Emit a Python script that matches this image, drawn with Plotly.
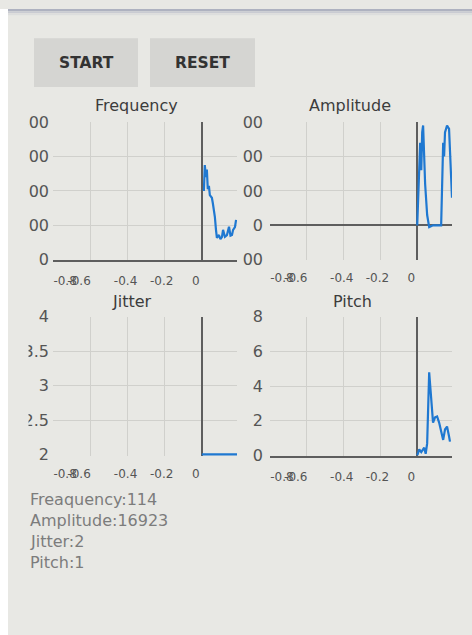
import plotly.graph_objects as go

# ---------------- data ----------------
freq_t = [0.011, 0.016, 0.022, 0.027, 0.032, 0.038, 0.043, 0.054, 0.059, 0.070, 0.076, 0.081,
          0.092, 0.100, 0.108, 0.114, 0.124, 0.135, 0.146, 0.154, 0.162, 0.168, 0.178, 0.184]
freq_v = [200, 275, 240, 262, 205, 215, 188, 180, 165, 125, 87, 64,
          72, 60, 66, 87, 67, 72, 96, 70, 72, 87, 95, 116]

amp_t = [0.0, 0.011, 0.016, 0.022, 0.027, 0.032, 0.043, 0.054, 0.065, 0.086, 0.130,
         0.141, 0.146, 0.151, 0.162, 0.173, 0.184, 0.189]
amp_v = [0, 20000, 24000, 16000, 27000, 29000, 12000, 3000, -500, 0, 0,
         24000, 20000, 27000, 29000, 28000, 12000, 8000]

jit_t = [0.0, 0.05, 0.10, 0.15, 0.189]
jit_v = [2, 2, 2, 2, 2]

pitch_t = [0.0, 0.011, 0.022, 0.038, 0.046, 0.054, 0.065, 0.076, 0.086, 0.097, 0.108,
           0.119, 0.135, 0.141, 0.151, 0.162, 0.173, 0.178]
pitch_v = [0, 0.35, 0.2, 0.45, 0.1, 0.7, 4.8, 3.4, 1.9, 2.2, 2.25,
           1.9, 1.1, 0.9, 1.5, 1.67, 1.1, 0.8]

x_grid = [-0.8, -0.6, -0.4, -0.2, 0.0]
x_label_pos = [-0.735, -0.66, -0.41, -0.216, -0.032]
x_label_text = ["-0.8", "-0.6", "-0.4", "-0.2", "0"]

freq_ticks = [0, 100, 200, 300, 400]
freq_text = ["0", "100", "200", "300", "400"]
amp_ticks = [-10000, 0, 10000, 20000, 30000]
amp_text = ["00", "0", "00", "00", "00"]          # only the visible ends of the clipped labels
jit_ticks = [2, 2.5, 3, 3.5, 4]
jit_text = ["2", "2.5", "3", "3.5", "4"]
pitch_ticks = [0, 2, 4, 6, 8]
pitch_text = ["0", "2", "4", "6", "8"]

titles = ["Frequency", "Amplitude", "Jitter", "Pitch"]
readouts = ["Freaquency:114", "Amplitude:16923", "Jitter:2", "Pitch:1"]
buttons = ["START", "RESET"]

# ---------------- style ----------------
W = 472
HF = 645
SY, OY = 0.972, 8.8     # how the page is mapped onto the photographed picture vertically
BG = "#e8e8e4"
GRID = "#d0d0cc"
AXIS = "#5e5e5e"
LINE = "#1f78d1"
FONT = "DejaVu Sans"


def px(x):
    return x / W


def py(y):
    return 1 - ((y - OY) / SY) / HF


fig = go.Figure()

panels = [
    (freq_t, freq_v, (53, 237), (122, 260), freq_ticks, freq_text, [0, 400], True),
    (amp_t, amp_v, (270, 452), (122, 260), amp_ticks, amp_text, [-10000, 30000], False),
    (jit_t, jit_v, (53, 237), (317, 456), jit_ticks, jit_text, [1.99, 4], False),
    (pitch_t, pitch_v, (270, 452), (317, 456), pitch_ticks, pitch_text, [0, 8], True),
]

layout_axes = {}
for i, (t, v, xr, yr, yt, ytext, yrange, bottom) in enumerate(panels, start=1):
    sx = "" if i == 1 else str(i)
    fig.add_trace(go.Scatter(x=t, y=v, mode="lines", xaxis="x" + sx, yaxis="y" + sx,
                             line=dict(color=LINE, width=2.2 if i != 3 else 3), hoverinfo="skip"))
    layout_axes["xaxis" + sx] = dict(
        domain=[px(xr[0]), px(xr[1])], range=[-0.8, 0.189], anchor="y" + sx,
        tickmode="array", tickvals=x_label_pos, ticktext=x_label_text, tickangle=0,
        showgrid=False, ticks="", ticklabelstandoff=9,
        minor=dict(tickmode="array", tickvals=x_grid, showgrid=True, gridcolor=GRID, gridwidth=1, ticks=""),
        zeroline=True, zerolinecolor=AXIS, zerolinewidth=2,
        showline=bottom, linecolor=AXIS, linewidth=2,
        tickfont=dict(family=FONT, size=12, color="#555555"), fixedrange=True,
    )
    layout_axes["yaxis" + sx] = dict(
        domain=[py(yr[1]), py(yr[0])], range=yrange, anchor="x" + sx,
        tickmode="array", tickvals=yt, ticktext=ytext, tickangle=0,
        showgrid=True, gridcolor=GRID, gridwidth=1, ticks="",
        ticklabelstandoff=(3 if i in (1, 3) else 6),
        zeroline=(i == 2), zerolinecolor=AXIS, zerolinewidth=2, showline=False,
        tickfont=dict(family=FONT, size=16, color="#555555"), fixedrange=True,
    )

shapes = [
    dict(type="rect", xref="paper", yref="paper", x0=0, x1=px(8), y0=0, y1=1,
         fillcolor="white", line_width=0, layer="below"),
    dict(type="rect", xref="paper", yref="paper", x0=px(8), x1=1, y0=py(11), y1=1,
         fillcolor="#aeb2c0", line_width=0, layer="below"),
    dict(type="rect", xref="paper", yref="paper", x0=px(8), x1=1, y0=py(13), y1=py(11),
         fillcolor="#c9cbd2", line_width=0, layer="below"),
    dict(type="rect", xref="paper", yref="paper", x0=px(8), x1=1, y0=py(15), y1=py(13),
         fillcolor="#dcdddd", line_width=0, layer="below"),
    dict(type="rect", xref="paper", yref="paper", x0=px(34), x1=px(138), y0=py(87), y1=py(38),
         fillcolor="#d5d5d2", line_width=0, layer="below"),
    dict(type="rect", xref="paper", yref="paper", x0=px(150), x1=px(255), y0=py(87), y1=py(38),
         fillcolor="#d5d5d2", line_width=0, layer="below"),
    # the left view edge clips the first digits of the y labels
    dict(type="rect", xref="paper", yref="paper", x0=px(8), x1=px(28.5), y0=py(480), y1=py(110),
         fillcolor=BG, line_width=0, layer="above"),
]

ann = []
for txt, (cx, cy) in zip(buttons, [(86, 63), (202, 63)]):
    ann.append(dict(text=txt, x=px(cx), y=py(cy), xref="paper", yref="paper", showarrow=False,
                    xanchor="center", yanchor="middle",
                    font=dict(family=FONT, size=15.5, color="#333333", weight="bold")))
for txt, (cx, cy) in zip(titles, [(136, 105), (350, 105), (132, 302), (352, 302)]):
    ann.append(dict(text=txt, x=px(cx), y=py(cy), xref="paper", yref="paper", showarrow=False,
                    xanchor="center", yanchor="middle",
                    font=dict(family=FONT, size=16, color="#3c3c3c")))
for k, txt in enumerate(readouts):
    ann.append(dict(text=txt, x=px(28), y=py(500 + 21 * k), xref="paper", yref="paper",
                    showarrow=False, xanchor="left", yanchor="middle",
                    font=dict(family=FONT, size=16, color="#7c7c7c")))

fig.update_layout(
    width=W, height=HF, margin=dict(l=0, r=0, t=0, b=0),
    paper_bgcolor=BG, plot_bgcolor=BG, showlegend=False,
    shapes=shapes, annotations=ann, **layout_axes,
)

fig.write_html(
    "out.html",
    config={"displayModeBar": False},
    post_script="document.body.style.margin='0px'; document.body.style.overflow='hidden';",
)
